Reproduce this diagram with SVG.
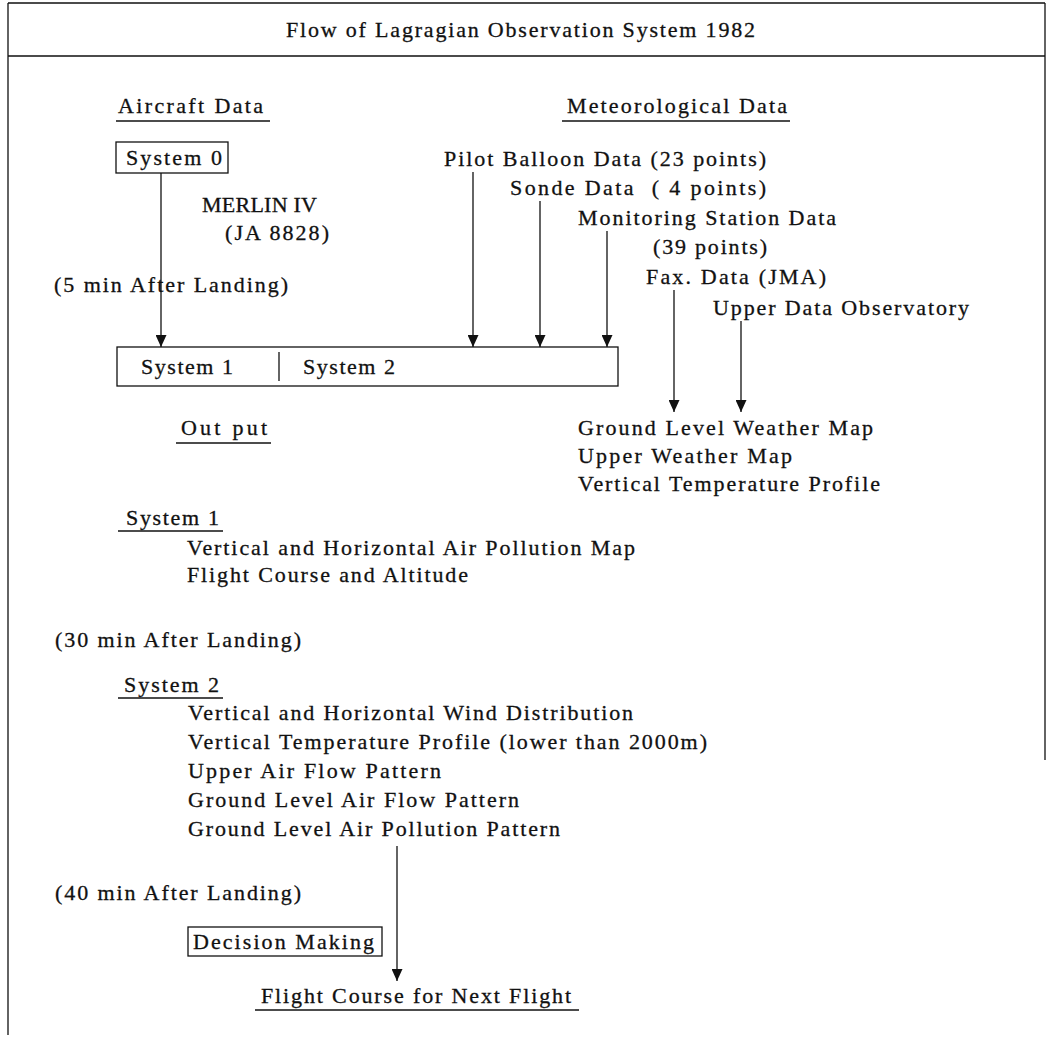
<svg xmlns="http://www.w3.org/2000/svg" width="1048" height="1038" viewBox="0 0 1048 1038">
<defs>
<style>
text{font-family:"Liberation Serif","Times New Roman",serif;font-size:22px;fill:#111;stroke:#111;stroke-width:0.3}
.ln{stroke:#111;stroke-width:1.3;fill:none}
.bx{stroke:#111;stroke-width:1.3;fill:#fff}
</style>
<marker id="ah" viewBox="0 0 12 11" refX="12" refY="5.5" markerWidth="12" markerHeight="11" markerUnits="userSpaceOnUse" orient="auto">
<path d="M0,0 L12,5.5 L0,11 Z" fill="#111"/>
</marker>
</defs>
<rect width="1048" height="1038" fill="#fff"/>
<g id="frame">
<path class="ln" d="M8,3 H1045 M8,56 H1045 M8,3 V1035 M1045,3 V760"/>
<text x="286" y="37" textLength="469" lengthAdjust="spacing">Flow of Lagragian Observation System 1982</text>
</g>
<g id="aircraft-data">
<text x="118" y="113" textLength="145" lengthAdjust="spacing">Aircraft Data</text>
<path class="ln" d="M116,121 H270"/>
</g>
<g id="meteorological-data">
<text x="567" y="113" textLength="220" lengthAdjust="spacing">Meteorological Data</text>
<path class="ln" d="M562,121 H790"/>
</g>
<g id="system0">
<rect class="bx" x="116" y="142" width="112" height="31"/>
<text x="126" y="165" textLength="96" lengthAdjust="spacing">System 0</text>
</g>
<g id="merlin">
<text x="202" y="212" textLength="115" lengthAdjust="spacing">MERLIN IV</text>
<text x="225" y="240" textLength="104" lengthAdjust="spacing">(JA 8828)</text>
</g>
<g id="t5">
<text x="54" y="292" textLength="234" lengthAdjust="spacing">(5 min After Landing)</text>
</g>
<g id="pilot">
<text x="444" y="166" textLength="322" lengthAdjust="spacing">Pilot Balloon Data (23 points)</text>
</g>
<g id="sonde">
<text x="510" y="195" textLength="256" lengthAdjust="spacing" xml:space="preserve">Sonde Data  ( 4 points)</text>
</g>
<g id="monitoring">
<text x="578" y="225" textLength="258" lengthAdjust="spacing">Monitoring Station Data</text>
<text x="653" y="254" textLength="114" lengthAdjust="spacing">(39 points)</text>
</g>
<g id="fax">
<text x="646" y="284" textLength="180" lengthAdjust="spacing">Fax. Data (JMA)</text>
</g>
<g id="upper-obs">
<text x="713" y="315" textLength="256" lengthAdjust="spacing">Upper Data Observatory</text>
</g>
<g id="system12">
<rect class="bx" x="117" y="347" width="501" height="39"/>
<path class="ln" d="M279,352 V381"/>
<text x="141" y="374" textLength="92" lengthAdjust="spacing">System 1</text>
<text x="303" y="374" textLength="92" lengthAdjust="spacing">System 2</text>
</g>
<g id="output">
<text x="181" y="435" textLength="86" lengthAdjust="spacing">Out put</text>
<path class="ln" d="M176,443 H271"/>
</g>
<g id="maps">
<text x="578" y="435" textLength="295" lengthAdjust="spacing">Ground Level Weather Map</text>
<text x="578" y="463" textLength="214" lengthAdjust="spacing">Upper Weather Map</text>
<text x="578" y="491" textLength="302" lengthAdjust="spacing">Vertical Temperature Profile</text>
</g>
<g id="out-system1">
<text x="126" y="525" textLength="93" lengthAdjust="spacing">System 1</text>
<path class="ln" d="M118,531 H223"/>
<text x="187" y="555" textLength="448" lengthAdjust="spacing">Vertical and Horizontal Air Pollution Map</text>
<text x="187" y="582" textLength="281" lengthAdjust="spacing">Flight Course and Altitude</text>
</g>
<g id="t30">
<text x="55" y="647" textLength="246" lengthAdjust="spacing">(30 min After Landing)</text>
</g>
<g id="out-system2">
<text x="124" y="692" textLength="95" lengthAdjust="spacing">System 2</text>
<path class="ln" d="M118,698 H223"/>
<text x="188" y="720" textLength="445" lengthAdjust="spacing">Vertical and Horizontal Wind Distribution</text>
<text x="188" y="749" textLength="519" lengthAdjust="spacing">Vertical Temperature Profile (lower than 2000m)</text>
<text x="188" y="778" textLength="253" lengthAdjust="spacing">Upper Air Flow Pattern</text>
<text x="188" y="807" textLength="331" lengthAdjust="spacing">Ground Level Air Flow Pattern</text>
<text x="188" y="836" textLength="372" lengthAdjust="spacing">Ground Level Air Pollution Pattern</text>
</g>
<g id="t40">
<text x="55" y="900" textLength="246" lengthAdjust="spacing">(40 min After Landing)</text>
</g>
<g id="decision">
<rect class="bx" x="188" y="927" width="194" height="29"/>
<text x="193" y="949" textLength="181" lengthAdjust="spacing">Decision Making</text>
</g>
<g id="next-flight">
<text x="261" y="1003" textLength="310" lengthAdjust="spacing">Flight Course for Next Flight</text>
<path class="ln" d="M255,1010 H579"/>
</g>
<g id="connectors">
<path class="ln" d="M161,173 V347" marker-end="url(#ah)"/>
<path class="ln" d="M473,172 V347" marker-end="url(#ah)"/>
<path class="ln" d="M540,201 V347" marker-end="url(#ah)"/>
<path class="ln" d="M607,231 V347" marker-end="url(#ah)"/>
<path class="ln" d="M674,290 V412" marker-end="url(#ah)"/>
<path class="ln" d="M741,321 V412" marker-end="url(#ah)"/>
<path class="ln" d="M397,846 V981" marker-end="url(#ah)"/>
</g>
</svg>
